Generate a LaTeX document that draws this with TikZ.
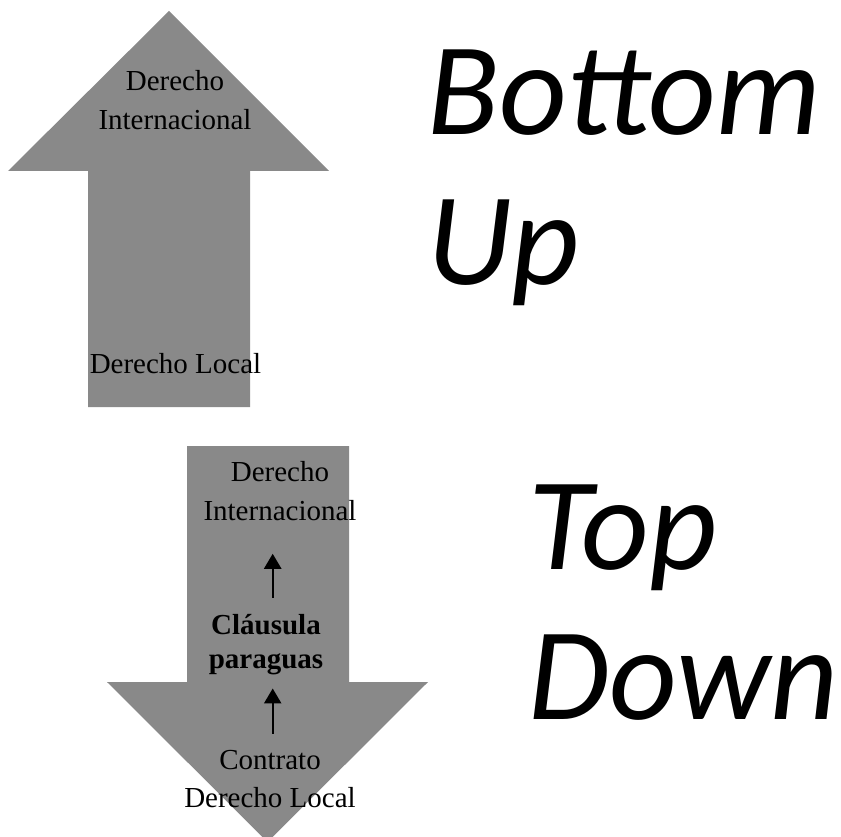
\documentclass[tikz,border=0pt]{standalone}
\usepackage{fontspec}
\setmainfont{Liberation Serif}
\newfontfamily\titlefont{Carlito}
\usetikzlibrary{arrows.meta}
\definecolor{arrowgray}{RGB}{137,137,137}
\tikzset{
  BlockStyle/.style = {fill = arrowgray},
  LabelStyle/.style = {align = center, inner sep = 0pt,
                       font = \fontsize{29}{38.7}\selectfont},
  BoldLabelStyle/.style = {LabelStyle,
                       font = \fontsize{29}{34}\selectfont\bfseries},
  TitleStyle/.style = {align = left, inner sep = 0pt,
                       font = \titlefont\itshape\fontsize{132}{150}\selectfont},
  EdgeStyle/.style = {line width = 2.4pt, -{Triangle[width=17pt,length=15pt]}} }

\begin{document}
\begin{tikzpicture}[x=1pt,y=-1pt]
  \useasboundingbox (0,0) rectangle (841,837);

  \fill[BlockStyle] (169,11) -- (329,171) -- (250,171) -- (250,407)
    -- (88,407) -- (88,171) -- (8,171) -- cycle;
  \fill[BlockStyle] (187,446) -- (349,446) -- (349,682) -- (428,682)
    -- (267.5,842) -- (107,682) -- (187,682) -- cycle;

  \node[LabelStyle] (ui) at (175,100) {Derecho\\Internacional};
  \node[LabelStyle, anchor=base] (ul) at (175.5,373) {Derecho Local};

  \node[LabelStyle] (li) at (280,491) {Derecho\\Internacional};
  \node[BoldLabelStyle] (cp) at (266,645) {Cláusula\\paraguas};
  \node[LabelStyle] (cd) at (270,779) {Contrato\\Derecho Local};

  \draw[EdgeStyle, shorten <=17pt, shorten >=33pt]
    ([xshift=6.7pt]cp.north) -- ([xshift=-7.3pt]li.south);
  \draw[EdgeStyle, shorten <=16pt, shorten >=13pt]
    ([xshift=2.7pt]cd.north) -- ([xshift=6.7pt]cp.south);

  \node[TitleStyle, anchor=west] (bu) at (427,177.5) {Bottom\\Up};
  \node[TitleStyle, anchor=west] (td) at (528,602.5) {Top\\Down};
\end{tikzpicture}
\end{document}
